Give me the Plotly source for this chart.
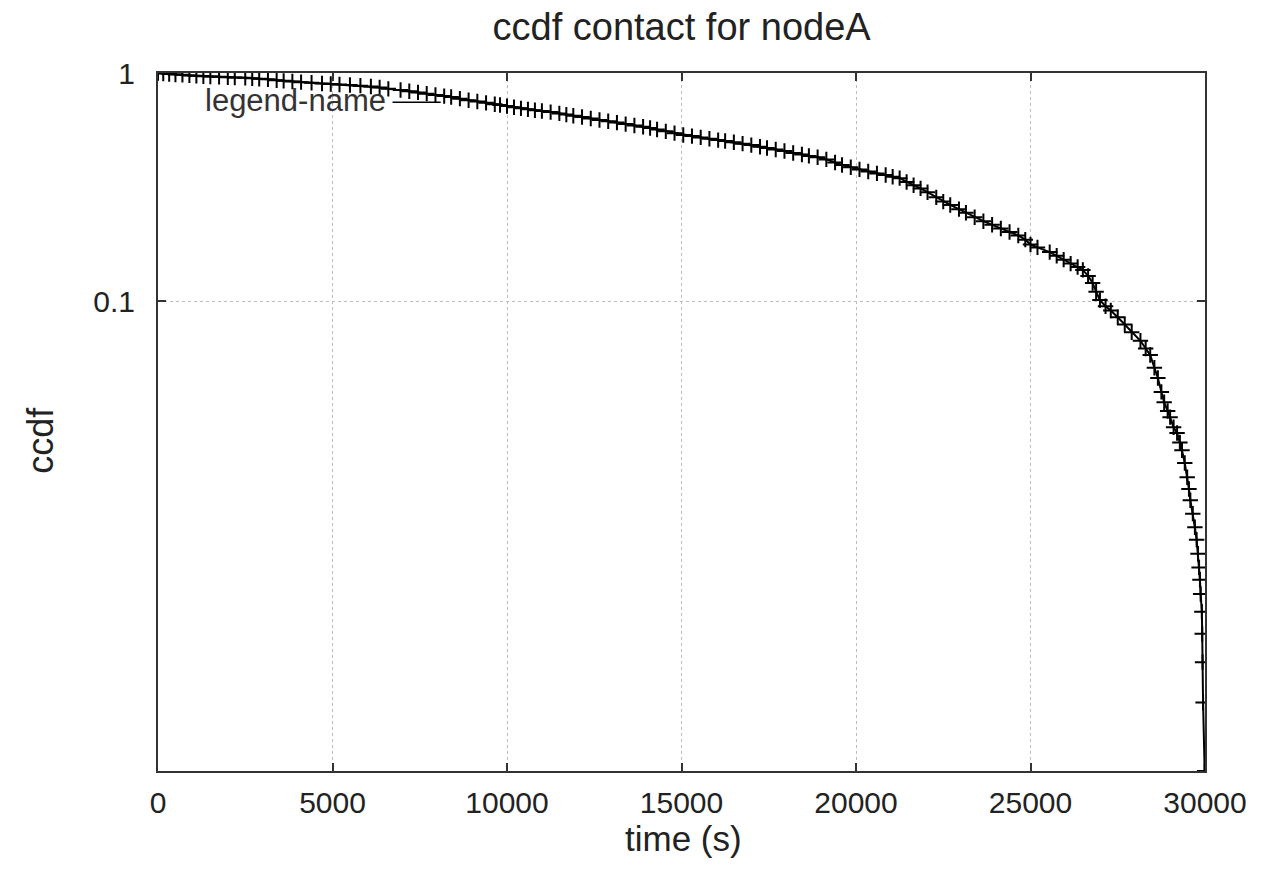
import plotly.graph_objects as go

# time (s) and ccdf values
time_s = [0, 150, 320, 500, 700, 900, 1100, 1300, 1500, 1750, 2000, 2200, 2500, 2700, 2900,
          3150, 3400, 3600, 3850, 4100, 4400, 4700, 4950, 5200, 5500, 5800, 6100, 6350, 6600,
          6950, 7200, 7450, 7700, 7950, 8200, 8400, 8650, 8900, 9150, 9400, 9650, 9800, 10000,
          10200, 10400, 10600, 10800, 11000, 11250, 11500, 11700, 11900, 12150, 12400, 12650,
          12900, 13150, 13400, 13650, 13900, 14100, 14300, 14550, 14800, 15050, 15300, 15550,
          15800, 16050, 16250, 16500, 16750, 17000, 17250, 17450, 17700, 17950, 18200, 18450,
          18650, 18900, 19150, 19400, 19600, 19850, 20100, 20350, 20600, 20850, 21050, 21250,
          21450, 21650, 21850, 22050, 22300, 22500, 22700, 22950, 23150, 23400, 23650, 23900,
          24150, 24400, 24650, 24850, 25000, 25200, 25550, 25750, 25950, 26150, 26350, 26500,
          26650, 26780, 26880, 26990, 27150, 27300, 27500, 27700, 27900, 28150, 28300, 28430,
          28550, 28650, 28750, 28830, 28930, 29000, 29100, 29200, 29280, 29340, 29420, 29490,
          29540, 29580, 29650, 29710, 29760, 29800, 29830, 29855, 29875, 29910, 29920, 29930,
          29945, 29990]
ccdf = [1.000, 0.995, 0.990, 0.985, 0.982, 0.976, 0.972, 0.968, 0.965, 0.962, 0.958, 0.955,
        0.952, 0.949, 0.944, 0.938, 0.930, 0.924, 0.918, 0.912, 0.906, 0.900, 0.895, 0.890,
        0.886, 0.880, 0.872, 0.864, 0.852, 0.842, 0.832, 0.822, 0.812, 0.801, 0.792, 0.785,
        0.772, 0.760, 0.750, 0.740, 0.730, 0.724, 0.716, 0.708, 0.700, 0.693, 0.687, 0.681,
        0.674, 0.665, 0.657, 0.650, 0.641, 0.632, 0.622, 0.614, 0.606, 0.597, 0.589, 0.581,
        0.574, 0.565, 0.555, 0.545, 0.535, 0.529, 0.522, 0.515, 0.508, 0.503, 0.497, 0.490,
        0.483, 0.475, 0.469, 0.462, 0.455, 0.446, 0.439, 0.433, 0.427, 0.418, 0.405, 0.395,
        0.386, 0.378, 0.370, 0.363, 0.357, 0.351, 0.346, 0.333, 0.322, 0.312, 0.300, 0.285,
        0.273, 0.264, 0.253, 0.244, 0.233, 0.224, 0.216, 0.208, 0.201, 0.194, 0.186, 0.177,
        0.172, 0.164, 0.158, 0.152, 0.146, 0.141, 0.137, 0.129, 0.120, 0.110, 0.101, 0.095,
        0.091, 0.085, 0.079, 0.073, 0.067, 0.062, 0.058, 0.051, 0.046, 0.040, 0.036, 0.033,
        0.031, 0.028, 0.0264, 0.0240, 0.0222, 0.0195, 0.0169, 0.0150, 0.0134, 0.0117, 0.0102,
        0.0090, 0.0078, 0.0068, 0.0060, 0.0052, 0.00435, 0.00348, 0.00261, 0.00174, 0.00087]

x_ticks = [0, 5000, 10000, 15000, 20000, 25000, 30000]
x_tick_labels = ["0", "5000", "10000", "15000", "20000", "25000", "30000"]
y_ticks = [1, 0.1]
y_tick_labels = ["1", "0.1"]

FONT = "Liberation Sans, Arial, sans-serif"

fig = go.Figure()
fig.add_trace(go.Scatter(
    x=time_s, y=ccdf, mode="lines+markers", name="legend-name",
    line=dict(color="black", width=2),
    marker=dict(symbol="cross-thin", size=11, line=dict(color="black", width=2)),
    showlegend=False,
))

fig.update_layout(
    width=1261, height=871,
    margin=dict(l=158, r=56, t=73, b=100),
    paper_bgcolor="white", plot_bgcolor="white",
    font=dict(family=FONT, color="#222"),
    title=dict(text="ccdf contact for nodeA", x=0.5405, xanchor="center",
               y=0.969, yanchor="middle", font=dict(size=38, color="#222")),
)
fig.update_xaxes(
    range=[0, 30000], tickvals=x_ticks, ticktext=x_tick_labels,
    showline=True, linecolor="#333", linewidth=2, mirror="allticks",
    ticks="inside", ticklen=8, tickwidth=1.5, tickcolor="#333",
    showgrid=True, gridcolor="#bdbdbd", griddash="dot", gridwidth=1,
    zeroline=False, tickfont=dict(size=30, color="#222"), ticklabelstandoff=4,
)
fig.update_yaxes(
    type="log", range=[-3.06, 0], tickvals=y_ticks, ticktext=y_tick_labels,
    showline=True, linecolor="#333", linewidth=2, mirror="allticks",
    ticks="inside", ticklen=8, tickwidth=1.5, tickcolor="#333",
    showgrid=True, gridcolor="#bdbdbd", griddash="dot", gridwidth=1,
    zeroline=False, tickfont=dict(size=30, color="#222"), ticklabelstandoff=15,
)

fig.add_annotation(text="time (s)", xref="paper", yref="paper", x=0.502, y=-0.097,
                   xanchor="center", yanchor="middle", showarrow=False,
                   font=dict(size=35, color="#222"))
fig.add_annotation(text="ccdf", xref="paper", yref="paper", x=-0.113, y=0.474,
                   xanchor="center", yanchor="middle", showarrow=False, textangle=-90,
                   font=dict(size=36, color="#222"))
fig.add_annotation(text="legend-name", xref="paper", yref="paper", x=0.043, y=0.960,
                   xanchor="left", yanchor="middle", showarrow=False,
                   font=dict(size=31, color="#333"))
fig.add_shape(type="line", xref="paper", yref="paper", x0=0.224, x1=0.27, y0=0.958, y1=0.958,
              line=dict(color="black", width=1.5))

fig.write_html("out.html")
